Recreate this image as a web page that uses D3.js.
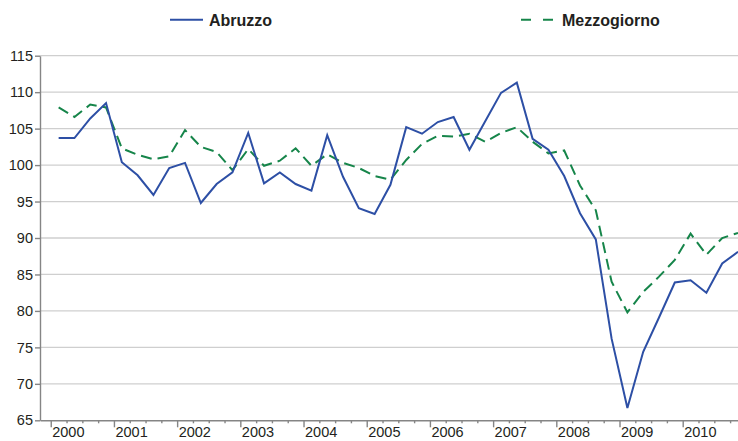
<!DOCTYPE html>
<html>
<head>
<meta charset="utf-8">
<script src="https://cdn.jsdelivr.net/npm/d3@7"></script>
<style>
    body { margin: 0; background: #fff; }
    svg { display: block; font-family: 'Liberation Sans', Arial, sans-serif; }
    .axis text { font-size: 14.5px; fill: #231f20; }
    .axis path, .axis line { stroke: #858585; stroke-width: 1.4; }
    .grid line { stroke: #cfcfcf; stroke-width: 1.3; }
    .legend text { font-size: 16px; font-weight: bold; fill: #231f20; }
</style>
</head>
<body>
<svg></svg>
<script>
// quarterly index, 2000 Q1 .. 2010 Q4
let years = [2000, 2001, 2002, 2003, 2004, 2005, 2006, 2007, 2008, 2009, 2010];
let yTicks = [65, 70, 75, 80, 85, 90, 95, 100, 105, 110, 115];

let abruzzo = [
    103.7, 103.7, 106.4, 108.5,
    100.4, 98.6, 95.9, 99.6,
    100.3, 94.8, 97.4, 99.0,
    104.4, 97.5, 99.0, 97.4,
    96.5, 104.1, 98.4, 94.1,
    93.3, 97.3, 105.2, 104.3,
    105.9, 106.6, 102.1, 106.0,
    109.9, 111.3, 103.6, 102.1,
    98.5, 93.4, 89.8, 76.2,
    66.7, 74.4, 79.1, 83.9,
    84.2, 82.5, 86.5, 88.1
];

let mezzogiorno = [
    107.9, 106.6, 108.3, 107.9,
    102.3, 101.4, 100.8, 101.2,
    104.8, 102.5, 101.8, 99.3,
    102.2, 99.9, 100.6, 102.3,
    99.9, 101.5, 100.3, 99.6,
    98.5, 98.0, 100.7, 102.9,
    104.0, 103.9, 104.3, 103.2,
    104.4, 105.2, 103.2, 101.6,
    102.0, 97.2, 93.8, 84.0,
    79.8, 82.6, 84.7, 87.0,
    90.6, 87.7, 90.0, 90.7
];

let width = 738;
let height = 441;

let svg = d3.select('svg')
    .attr('width', width)
    .attr('height', height);

// each point sits in the middle of its quarter
let periods = abruzzo.map((d, i) => years[0] + (i + 0.5) / 4);
let quarterMarks = d3.range(years[0], years[years.length - 1] + 1, 0.25)
    .filter(d => d % 1 !== 0);

let xScale = d3.scaleLinear()
    .domain([1999.83, 2010.875])
    .range([40, width]);

let yScale = d3.scaleLinear()
    .domain([65, 115])
    .range([420.3, 55.7]);

// gridlines
svg.append('g')
    .attr('class', 'grid')
    .selectAll('line')
    .data(yTicks.filter(d => d > 65))
    .enter()
    .append('line')
    .attr('x1', xScale.range()[0])
    .attr('x2', xScale.range()[1])
    .attr('y1', d => yScale(d))
    .attr('y2', d => yScale(d));

// y axis
let yAxis = d3.axisLeft(yScale)
    .tickValues(yTicks)
    .tickSize(5)
    .tickSizeOuter(0)
    .tickPadding(2);

svg.append('g')
    .attr('class', 'axis')
    .attr('transform', `translate(${xScale.range()[0]}, 0)`)
    .call(yAxis);

// x axis: years
let xAxis = d3.axisBottom(xScale)
    .tickValues(years)
    .tickSize(7)
    .tickSizeOuter(0)
    .tickFormat(d3.format('d'));

let gx = svg.append('g')
    .attr('class', 'axis')
    .attr('transform', `translate(0, ${yScale(65)})`)
    .call(xAxis);

gx.selectAll('text')
    .attr('text-anchor', 'start')
    .attr('x', 1)
    .attr('y', 16.5)
    .attr('dy', null);

// x axis: quarter ticks
let xMinor = d3.axisBottom(xScale)
    .tickValues(quarterMarks)
    .tickSize(3)
    .tickSizeOuter(0)
    .tickFormat('');

let gm = svg.append('g')
    .attr('class', 'axis')
    .attr('transform', `translate(0, ${yScale(65)})`)
    .call(xMinor);
gm.select('.domain').remove();

// lines
let line = d3.line()
    .x((d, i) => xScale(periods[i]))
    .y(d => yScale(d));

svg.append('path')
    .datum(mezzogiorno)
    .attr('d', line)
    .attr('fill', 'none')
    .attr('stroke', '#16854a')
    .attr('stroke-width', 2)
    .attr('stroke-dasharray', '11,6');

svg.append('path')
    .datum(abruzzo)
    .attr('d', line)
    .attr('fill', 'none')
    .attr('stroke', '#2d4fa5')
    .attr('stroke-width', 2);

// legend
let legend = svg.append('g').attr('class', 'legend');

legend.append('line')
    .attr('x1', 170).attr('x2', 203)
    .attr('y1', 19.7).attr('y2', 19.7)
    .attr('stroke', '#2d4fa5')
    .attr('stroke-width', 2);
legend.append('text')
    .attr('x', 209).attr('y', 25.5)
    .text('Abruzzo');

legend.append('line')
    .attr('x1', 521).attr('x2', 554)
    .attr('y1', 19.7).attr('y2', 19.7)
    .attr('stroke', '#16854a')
    .attr('stroke-width', 2)
    .attr('stroke-dasharray', '10,12');
legend.append('text')
    .attr('x', 562).attr('y', 25.5)
    .text('Mezzogiorno');
</script>
</body>
</html>
